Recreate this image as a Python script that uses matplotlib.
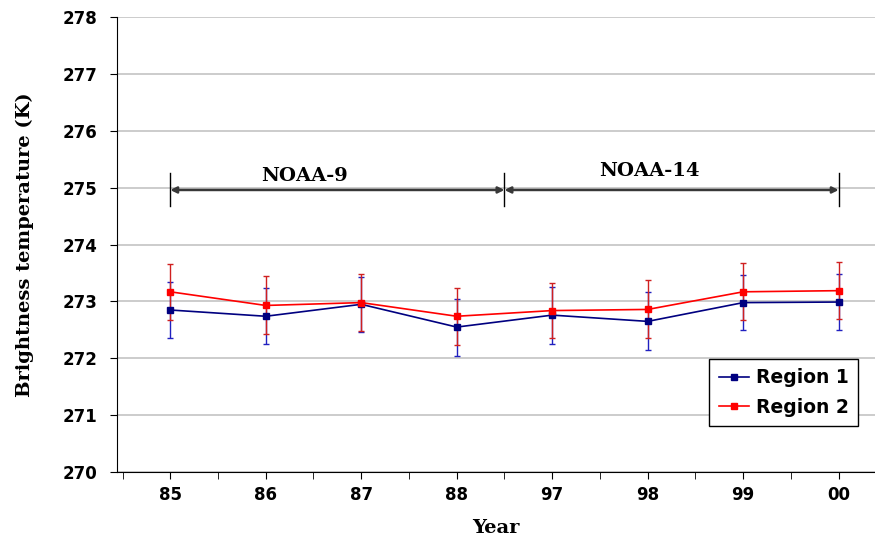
import matplotlib.pyplot as plt
from matplotlib.ticker import FixedLocator

years = ['85', '86', '87', '88', '97', '98', '99', '00']
region1 = [272.85, 272.74, 272.95, 272.55, 272.76, 272.65, 272.98, 272.99]
region2 = [273.17, 272.93, 272.98, 272.74, 272.84, 272.86, 273.17, 273.19]
err1 = [0.49, 0.49, 0.48, 0.50, 0.50, 0.51, 0.49, 0.49]
err2 = [0.49, 0.51, 0.50, 0.50, 0.49, 0.51, 0.50, 0.50]
sensors = ['NOAA-9', 'NOAA-14']
sensor_span = [(0, 3.5), (3.5, 7)]

sans = 'DejaVu Sans'
serif = 'DejaVu Serif'

fig = plt.figure(figsize=(8.75, 5.49), dpi=100)
ax = fig.add_axes([0.134, 0.140, 0.866, 0.829])

x = list(range(len(years)))
# error bars first, lines with markers on top
ax.errorbar(x, region1, yerr=err1, fmt='none', ecolor='#2020c0',
            elinewidth=1, capsize=2.5, capthick=1, zorder=3)
ax.errorbar(x, region2, yerr=err2, fmt='none', ecolor='#d02020',
            elinewidth=1, capsize=2.5, capthick=1, zorder=4)
l1, = ax.plot(x, region1, color='#000080', marker='s', markersize=4.5,
              linewidth=1.2, label='Region 1', zorder=5)
l2, = ax.plot(x, region2, color='#ff0000', marker='s', markersize=5,
              linewidth=1.2, label='Region 2', zorder=6)

# satellite periods
label_shift = {'NOAA-9': (-0.34, 0.08), 'NOAA-14': (-0.23, 0.17)}
for (a, b), name in zip(sensor_span, sensors):
    ax.annotate('', xy=(a, 274.96), xytext=(b, 274.96),
                arrowprops=dict(arrowstyle='<|-|>', color='#383838', lw=1.8,
                                mutation_scale=9, shrinkA=0, shrinkB=0))
    dx, dy = label_shift[name]
    ax.text((a + b) / 2 + dx, 274.96 + dy, name,
            ha='center', va='bottom', fontsize=14, fontweight='bold',
            family=serif)
for xv in [0, 3.5, 7]:
    ax.plot([xv, xv], [274.67, 275.25], color='black', lw=1)

ax.set_xlim(-0.555, 7.38)
ax.set_ylim(270, 278)
ax.set_xticks(x)
ax.set_xticklabels(years, fontsize=12, fontweight='bold', family=sans)
ax.xaxis.set_minor_locator(FixedLocator([i + 0.5 for i in range(-1, 8)]))
ax.tick_params(axis='x', which='both', direction='out', length=5, pad=5)
ax.set_yticks(range(270, 279))
ax.set_yticklabels([str(v) for v in range(270, 279)], fontsize=12,
                   fontweight='bold', family=sans)
ax.tick_params(axis='y', direction='out', length=5, pad=9)

ax.grid(axis='y', color='#c8c8c8', linewidth=1.3)
ax.set_axisbelow(True)
for s in ['top', 'right']:
    ax.spines[s].set_visible(False)

ax.set_xlabel('Year', fontsize=14, fontweight='bold', family=serif, labelpad=11)
ax.set_ylabel('Brightness temperature (K)', fontsize=14, fontweight='bold',
              family=serif, labelpad=21)

leg = ax.legend(handles=[l1, l2], loc='lower right',
                bbox_to_anchor=(0.978, 0.101),
                prop={'family': sans, 'weight': 'bold', 'size': 13.5},
                fancybox=False, edgecolor='black', framealpha=1,
                handlelength=1.6, handletextpad=0.4, borderpad=0.5,
                labelspacing=0.55, borderaxespad=0)
leg.get_frame().set_linewidth(1)

fig.savefig('out.png', dpi=100)
